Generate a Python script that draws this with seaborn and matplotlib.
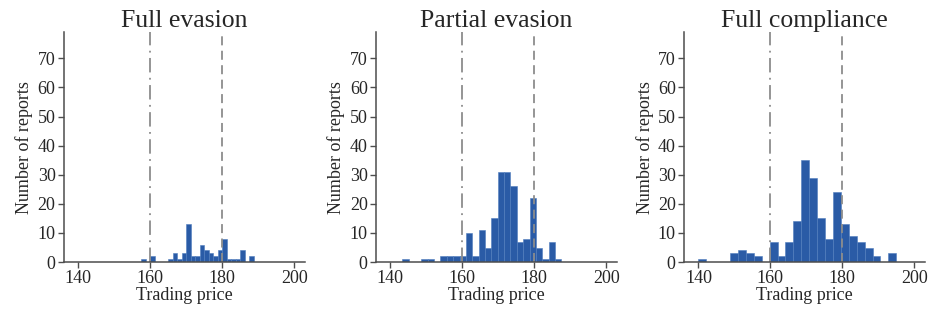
import numpy as np
import pandas as pd
import matplotlib
matplotlib.use("Agg")
import matplotlib.pyplot as plt
import seaborn as sns

# Histogram data (25 bins per panel)
titles = ["Full evasion", "Partial evasion", "Full compliance"]

full_evasion_start, full_evasion_width = 157.5, 1.25
full_evasion_counts = [1, 0, 2, 0, 0, 0, 1, 3, 1, 3, 13, 2, 2, 6, 4, 3, 2, 4, 8,
                       1, 1, 1, 4, 0, 2]

partial_evasion_start, partial_evasion_width = 143.3, 1.77
partial_evasion_counts = [1, 0, 0, 1, 1, 0, 2, 2, 2, 2, 10, 2, 11, 5, 15, 31, 31,
                          26, 7, 8, 22, 5, 1, 7, 1]

full_compliance_start, full_compliance_width = 140.0, 2.2
full_compliance_counts = [1, 0, 0, 0, 3, 4, 3, 2, 0, 7, 2, 7, 14, 35, 29, 15, 8,
                          24, 13, 9, 7, 5, 2, 0, 3]

x_ticks = [140, 160, 180, 200]
y_ticks = [0, 10, 20, 30, 40, 50, 60, 70]
lower_threshold = 160
upper_threshold = 180

sns.set_theme(style="ticks")
plt.rcParams["font.family"] = ["Liberation Serif", "DejaVu Serif"]

bar_color = "#2a5ba6"
axis_color = "#4d4d4d"

fig = plt.figure(figsize=(9.35, 3.15), dpi=100)
lefts = [0.0684, 0.4021, 0.7316]

panels = [
    (full_evasion_start, full_evasion_width, full_evasion_counts),
    (partial_evasion_start, partial_evasion_width, partial_evasion_counts),
    (full_compliance_start, full_compliance_width, full_compliance_counts),
]

for left, title, (start, width, counts) in zip(lefts, titles, panels):
    ax = fig.add_axes([left, 0.168, 0.2578, 0.730])
    edges = start + width * np.arange(len(counts) + 1)
    df = pd.DataFrame({"price": (edges[:-1] + edges[1:]) / 2,
                       "n": np.array(counts, dtype=float)})
    sns.histplot(data=df, x="price", weights="n", bins=list(edges), ax=ax,
                 color=bar_color, alpha=1, edgecolor="#4f7dbd", linewidth=0.4)

    ax.axvline(lower_threshold, color="#8c8c8c", lw=1.3, ls=(0, (8, 3, 1, 3)))
    ax.axvline(upper_threshold, color="#8c8c8c", lw=1.3, ls=(0, (5, 3)))

    ax.set_xlim(136, 203)
    ax.set_ylim(0, 79)
    ax.set_xticks(x_ticks)
    ax.set_yticks(y_ticks)
    ax.set_xlabel("Trading price", fontsize=13, labelpad=0)
    ax.set_ylabel("Number of reports", fontsize=13, labelpad=3)
    ax.set_title(title, fontsize=18.5, pad=4)
    ax.tick_params(axis="both", labelsize=13, length=4, width=1,
                   color=axis_color, pad=2)
    for side in ["top", "right"]:
        ax.spines[side].set_visible(False)
    for side in ["left", "bottom"]:
        ax.spines[side].set_color(axis_color)
        ax.spines[side].set_linewidth(1.1)

fig.savefig("out.png", dpi=100, facecolor="white")
